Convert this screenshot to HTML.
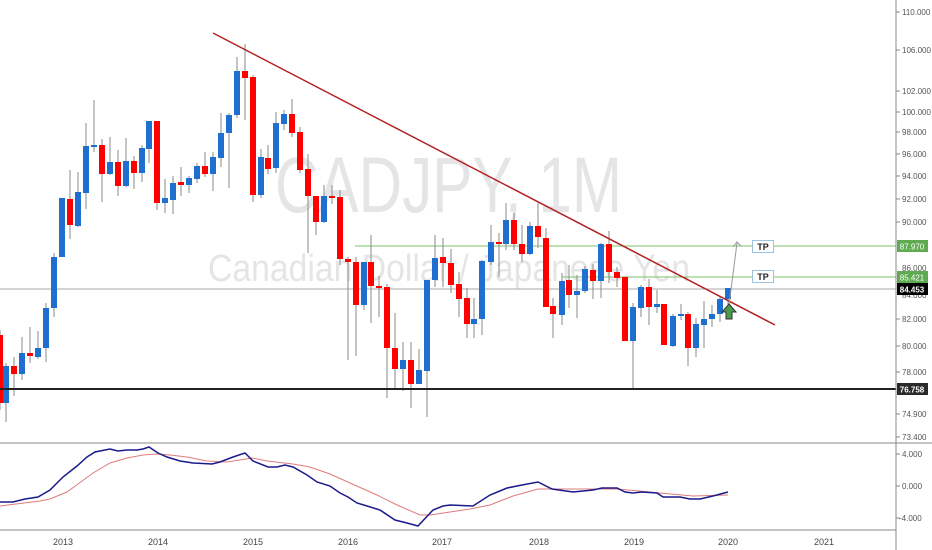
<!DOCTYPE html>
<html><head><meta charset="utf-8"><style>
html,body{margin:0;padding:0;background:#fff;}
svg{display:block;font-family:"Liberation Sans",sans-serif;}
</style></head><body>
<svg width="932" height="550" viewBox="0 0 932 550" xmlns="http://www.w3.org/2000/svg">
<rect width="932" height="550" fill="#fff"/>
<!-- watermark -->
<text x="275" y="212" font-size="79" fill="#e5e5e7" textLength="347" lengthAdjust="spacingAndGlyphs">CADJPY, 1M</text>
<text x="208" y="281" font-size="38" fill="#e5e5e7" textLength="482" lengthAdjust="spacingAndGlyphs">Canadian Dollar / Japanese Yen</text>

<!-- horizontal levels -->
<line x1="0" y1="289" x2="896" y2="289" stroke="#a8a8a8" stroke-width="1"/>
<line x1="355" y1="246" x2="896" y2="246" stroke="#7cc36a" stroke-width="1"/>
<line x1="562" y1="277" x2="896" y2="277" stroke="#7cc36a" stroke-width="1"/>

<!-- candles -->
<g stroke="#8a8a8a" stroke-width="1">
<line x1="0" y1="330" x2="0" y2="410"/><line x1="6" y1="363" x2="6" y2="422"/><line x1="14" y1="357" x2="14" y2="396"/><line x1="22" y1="337" x2="22" y2="380"/><line x1="30" y1="327" x2="30" y2="363"/><line x1="38" y1="331" x2="38" y2="359"/><line x1="46" y1="303" x2="46" y2="362"/><line x1="54" y1="253" x2="54" y2="317"/><line x1="70" y1="170" x2="70" y2="239"/><line x1="78" y1="172" x2="78" y2="227"/><line x1="86" y1="123" x2="86" y2="209"/><line x1="94" y1="100" x2="94" y2="152"/><line x1="102" y1="139" x2="102" y2="202"/><line x1="110" y1="137" x2="110" y2="175"/><line x1="118" y1="150" x2="118" y2="196"/><line x1="126" y1="138" x2="126" y2="187"/><line x1="134" y1="156" x2="134" y2="189"/><line x1="142" y1="145" x2="142" y2="182"/><line x1="149" y1="121" x2="149" y2="163"/><line x1="157" y1="121" x2="157" y2="210"/><line x1="165" y1="179" x2="165" y2="213"/><line x1="173" y1="176" x2="173" y2="214"/><line x1="181" y1="167" x2="181" y2="196"/><line x1="189" y1="176" x2="189" y2="193"/><line x1="197" y1="163" x2="197" y2="183"/><line x1="205" y1="152" x2="205" y2="177"/><line x1="213" y1="152" x2="213" y2="191"/><line x1="221" y1="113" x2="221" y2="167"/><line x1="229" y1="113" x2="229" y2="188"/><line x1="237" y1="57" x2="237" y2="118"/><line x1="245" y1="44" x2="245" y2="120"/><line x1="253" y1="75" x2="253" y2="202"/><line x1="261" y1="149" x2="261" y2="198"/><line x1="268" y1="145" x2="268" y2="174"/><line x1="276" y1="112" x2="276" y2="173"/><line x1="284" y1="110" x2="284" y2="130"/><line x1="292" y1="99" x2="292" y2="137"/><line x1="300" y1="127" x2="300" y2="173"/><line x1="308" y1="154" x2="308" y2="253"/><line x1="316" y1="196" x2="316" y2="235"/><line x1="324" y1="185" x2="324" y2="223"/><line x1="332" y1="185" x2="332" y2="204"/><line x1="340" y1="190" x2="340" y2="265"/><line x1="348" y1="257" x2="348" y2="360"/><line x1="356" y1="257" x2="356" y2="356"/><line x1="364" y1="262" x2="364" y2="310"/><line x1="371" y1="235" x2="371" y2="323"/><line x1="379" y1="276" x2="379" y2="317"/><line x1="387" y1="284" x2="387" y2="398"/><line x1="395" y1="313" x2="395" y2="390"/><line x1="403" y1="342" x2="403" y2="391"/><line x1="411" y1="342" x2="411" y2="408"/><line x1="419" y1="349" x2="419" y2="384"/><line x1="427" y1="280" x2="427" y2="417"/><line x1="435" y1="235" x2="435" y2="287"/><line x1="443" y1="238" x2="443" y2="287"/><line x1="451" y1="249" x2="451" y2="293"/><line x1="459" y1="272" x2="459" y2="317"/><line x1="467" y1="288" x2="467" y2="338"/><line x1="474" y1="298" x2="474" y2="338"/><line x1="482" y1="260" x2="482" y2="335"/><line x1="491" y1="225" x2="491" y2="265"/><line x1="499" y1="233" x2="499" y2="277"/><line x1="506" y1="203" x2="506" y2="250"/><line x1="514" y1="213" x2="514" y2="250"/><line x1="522" y1="225" x2="522" y2="262"/><line x1="530" y1="222" x2="530" y2="255"/><line x1="538" y1="203" x2="538" y2="248"/><line x1="546" y1="228" x2="546" y2="307"/><line x1="553" y1="298" x2="553" y2="338"/><line x1="562" y1="273" x2="562" y2="325"/><line x1="569" y1="265" x2="569" y2="308"/><line x1="577" y1="275" x2="577" y2="318"/><line x1="585" y1="266" x2="585" y2="293"/><line x1="593" y1="264" x2="593" y2="299"/><line x1="601" y1="243" x2="601" y2="298"/><line x1="609" y1="231" x2="609" y2="283"/><line x1="617" y1="267" x2="617" y2="287"/><line x1="633" y1="303" x2="633" y2="389"/><line x1="641" y1="285" x2="641" y2="317"/><line x1="649" y1="279" x2="649" y2="325"/><line x1="657" y1="290" x2="657" y2="313"/><line x1="673" y1="314" x2="673" y2="347"/><line x1="681" y1="304" x2="681" y2="320"/><line x1="688" y1="312" x2="688" y2="366"/><line x1="696" y1="318" x2="696" y2="357"/><line x1="704" y1="301" x2="704" y2="348"/><line x1="712" y1="305" x2="712" y2="327"/><line x1="720" y1="297" x2="720" y2="322"/><line x1="728" y1="288" x2="728" y2="312"/>
</g>
<g fill="#ff0000">
<rect x="-3" y="335" width="6" height="68"/><rect x="11" y="366" width="6" height="8"/><rect x="27" y="353" width="6" height="3"/><rect x="67" y="199" width="6" height="26"/><rect x="99" y="145" width="6" height="29"/><rect x="115" y="162" width="6" height="24"/><rect x="131" y="161" width="6" height="12"/><rect x="154" y="121" width="6" height="82"/><rect x="178" y="182" width="6" height="3"/><rect x="202" y="166" width="6" height="8"/><rect x="242" y="71" width="6" height="7"/><rect x="250" y="77" width="6" height="118"/><rect x="265" y="158" width="6" height="11"/><rect x="289" y="114" width="6" height="19"/><rect x="297" y="132" width="6" height="38"/><rect x="305" y="169" width="6" height="27"/><rect x="313" y="196" width="6" height="26"/><rect x="329" y="196" width="6" height="2"/><rect x="337" y="197" width="6" height="62"/><rect x="345" y="259" width="6" height="3"/><rect x="353" y="262" width="6" height="43"/><rect x="368" y="262" width="6" height="24"/><rect x="376" y="286" width="6" height="2"/><rect x="384" y="287" width="6" height="61"/><rect x="392" y="348" width="6" height="21"/><rect x="408" y="360" width="6" height="24"/><rect x="440" y="257" width="6" height="6"/><rect x="448" y="263" width="6" height="22"/><rect x="456" y="284" width="6" height="15"/><rect x="464" y="298" width="6" height="26"/><rect x="496" y="242" width="6" height="2"/><rect x="511" y="220" width="6" height="24"/><rect x="519" y="244" width="6" height="10"/><rect x="535" y="226" width="6" height="11"/><rect x="543" y="238" width="6" height="69"/><rect x="550" y="306" width="6" height="8"/><rect x="566" y="280" width="6" height="15"/><rect x="590" y="270" width="6" height="11"/><rect x="606" y="244" width="6" height="28"/><rect x="614" y="272" width="6" height="6"/><rect x="622" y="277" width="6" height="64"/><rect x="646" y="287" width="6" height="20"/><rect x="661" y="304" width="6" height="41"/><rect x="685" y="314" width="6" height="34"/>
</g>
<g fill="#1f6fd0">
<rect x="3" y="366" width="6" height="37"/><rect x="19" y="353" width="6" height="21"/><rect x="35" y="348" width="6" height="9"/><rect x="43" y="308" width="6" height="40"/><rect x="51" y="257" width="6" height="51"/><rect x="59" y="198" width="6" height="59"/><rect x="75" y="192" width="6" height="34"/><rect x="83" y="146" width="6" height="47"/><rect x="91" y="145" width="6" height="2"/><rect x="107" y="162" width="6" height="12"/><rect x="123" y="161" width="6" height="25"/><rect x="139" y="148" width="6" height="25"/><rect x="146" y="121" width="6" height="28"/><rect x="162" y="198" width="6" height="5"/><rect x="170" y="183" width="6" height="17"/><rect x="186" y="178" width="6" height="7"/><rect x="194" y="166" width="6" height="13"/><rect x="210" y="157" width="6" height="17"/><rect x="218" y="133" width="6" height="25"/><rect x="226" y="115" width="6" height="18"/><rect x="234" y="71" width="6" height="44"/><rect x="258" y="157" width="6" height="38"/><rect x="273" y="123" width="6" height="45"/><rect x="281" y="114" width="6" height="10"/><rect x="321" y="196" width="6" height="26"/><rect x="361" y="262" width="6" height="43"/><rect x="400" y="360" width="6" height="9"/><rect x="416" y="370" width="6" height="14"/><rect x="424" y="280" width="6" height="91"/><rect x="432" y="258" width="6" height="22"/><rect x="471" y="319" width="6" height="5"/><rect x="479" y="261" width="6" height="58"/><rect x="488" y="242" width="6" height="20"/><rect x="503" y="220" width="6" height="24"/><rect x="527" y="226" width="6" height="28"/><rect x="559" y="281" width="6" height="34"/><rect x="574" y="291" width="6" height="4"/><rect x="582" y="269" width="6" height="22"/><rect x="598" y="244" width="6" height="37"/><rect x="630" y="307" width="6" height="34"/><rect x="638" y="287" width="6" height="21"/><rect x="654" y="304" width="6" height="3"/><rect x="670" y="316" width="6" height="30"/><rect x="678" y="314" width="6" height="2"/><rect x="693" y="324" width="6" height="24"/><rect x="701" y="319" width="6" height="6"/><rect x="709" y="314" width="6" height="5"/><rect x="717" y="299" width="6" height="15"/><rect x="725" y="288" width="6" height="11"/>
</g>

<!-- trendline -->
<line x1="213" y1="33" x2="775" y2="325" stroke="#b22222" stroke-width="1.5"/>
<!-- support -->
<line x1="0" y1="389" x2="896" y2="389" stroke="#222" stroke-width="2"/>

<!-- projection arrow -->
<polyline points="729,305 737,243" fill="none" stroke="#999" stroke-width="1"/>
<polyline points="733,247 737,242 741,246" fill="none" stroke="#999" stroke-width="1"/>
<!-- green up arrow -->
<polygon points="729,304 736,312 732,312 732,319 726,319 726,312 722,312" fill="#4c9a4c" stroke="#333" stroke-width="1"/>

<!-- TP boxes -->
<rect x="752.5" y="240.5" width="21" height="12" fill="#fff" stroke="#9cc3e0"/>
<text x="763" y="250" font-size="9" font-weight="bold" fill="#222" text-anchor="middle">TP</text>
<rect x="752.5" y="270.5" width="21" height="12" fill="#fff" stroke="#9cc3e0"/>
<text x="763" y="280" font-size="9" font-weight="bold" fill="#222" text-anchor="middle">TP</text>

<!-- pane separators / axis -->
<line x1="0" y1="443" x2="932" y2="443" stroke="#888" stroke-width="1"/>
<line x1="0" y1="530" x2="896" y2="530" stroke="#888" stroke-width="1"/>
<line x1="896" y1="0" x2="896" y2="550" stroke="#888" stroke-width="1"/>

<!-- MACD -->
<polyline fill="none" stroke="#e07b7b" stroke-width="1" points="0,506 40,501 50,499 67,492 78,484 93,473 110,463 127,458 143,455 157,454 170,455 187,457 207,461 227,462 252,458 267,461 293,464 310,467 330,474 350,483 377,495 397,505 420,515 430,515 450,512 470,509 490,505 513,496 538,489 550,489 617,489 660,493 693,496 728,495"/>
<polyline fill="none" stroke="#1a1a8c" stroke-width="1.5" points="0,502 13,502 25,499 38,497 50,490 63,477 77,466 87,457 95,452 110,449 118,451 127,450 137,450 143,449 149,447 158,453 167,457 180,461 193,463 212,464 220,462 233,457 245,453 253,461 268,467 277,467 285,465 293,467 307,475 317,482 330,486 340,493 348,497 357,503 367,506 380,510 395,520 407,523 418,526 433,510 443,506 450,505 473,506 490,495 507,488 522,485 538,482 552,489 573,492 593,490 602,488 617,488 625,492 633,493 642,492 657,493 663,497 680,497 690,499 700,499 713,496 728,492"/>

<!-- right axis labels -->
<g font-size="8" fill="#555">
<g stroke="#888"><line x1="896" y1="12" x2="900" y2="12"/><line x1="896" y1="50" x2="900" y2="50"/><line x1="896" y1="91" x2="900" y2="91"/><line x1="896" y1="112" x2="900" y2="112"/><line x1="896" y1="132" x2="900" y2="132"/><line x1="896" y1="154" x2="900" y2="154"/><line x1="896" y1="176" x2="900" y2="176"/><line x1="896" y1="199" x2="900" y2="199"/><line x1="896" y1="222" x2="900" y2="222"/><line x1="896" y1="319" x2="900" y2="319"/><line x1="896" y1="346" x2="900" y2="346"/><line x1="896" y1="372" x2="900" y2="372"/><line x1="896" y1="414" x2="900" y2="414"/><line x1="896" y1="437" x2="900" y2="437"/><line x1="896" y1="454" x2="900" y2="454"/><line x1="896" y1="486" x2="900" y2="486"/><line x1="896" y1="518" x2="900" y2="518"/></g>
<text x="902" y="15">110.000</text>
<text x="902" y="53">106.000</text>
<text x="902" y="94">102.000</text>
<text x="902" y="115">100.000</text>
<text x="902" y="135">98.000</text>
<text x="902" y="157">96.000</text>
<text x="902" y="179">94.000</text>
<text x="902" y="202">92.000</text>
<text x="902" y="225">90.000</text>
<text x="902" y="271">86.000</text>
<text x="902" y="298">84.000</text>
<text x="902" y="322">82.000</text>
<text x="902" y="349">80.000</text>
<text x="902" y="375">78.000</text>
<text x="902" y="417">74.900</text>
<text x="902" y="440">73.400</text>
<text x="902" y="457">4.000</text>
<text x="902" y="489">0.000</text>
<text x="899" y="521">-4.000</text>
</g>
<!-- price label boxes -->
<rect x="897" y="240" width="31" height="12" fill="#5fab52"/>
<text x="912" y="249.5" font-size="8" fill="#fff" text-anchor="middle">87.970</text>
<rect x="897" y="271" width="31" height="12" fill="#5fab52"/>
<text x="912" y="280.5" font-size="8" fill="#fff" text-anchor="middle">85.421</text>
<rect x="897" y="283" width="31" height="12" fill="#000"/>
<text x="912" y="292.5" font-size="8" fill="#fff" text-anchor="middle" font-weight="bold">84.453</text>
<rect x="897" y="383" width="31" height="12" fill="#2a2a2a"/>
<text x="912" y="392.5" font-size="8" fill="#fff" text-anchor="middle" font-weight="bold">76.758</text>

<!-- time axis -->
<g font-size="9" fill="#444" text-anchor="middle">
<text x="63" y="545">2013</text>
<text x="158" y="545">2014</text>
<text x="253" y="545">2015</text>
<text x="348" y="545">2016</text>
<text x="442" y="545">2017</text>
<text x="539" y="545">2018</text>
<text x="634" y="545">2019</text>
<text x="728" y="545">2020</text>
<text x="824" y="545">2021</text>
</g>
</svg>
</body></html>
